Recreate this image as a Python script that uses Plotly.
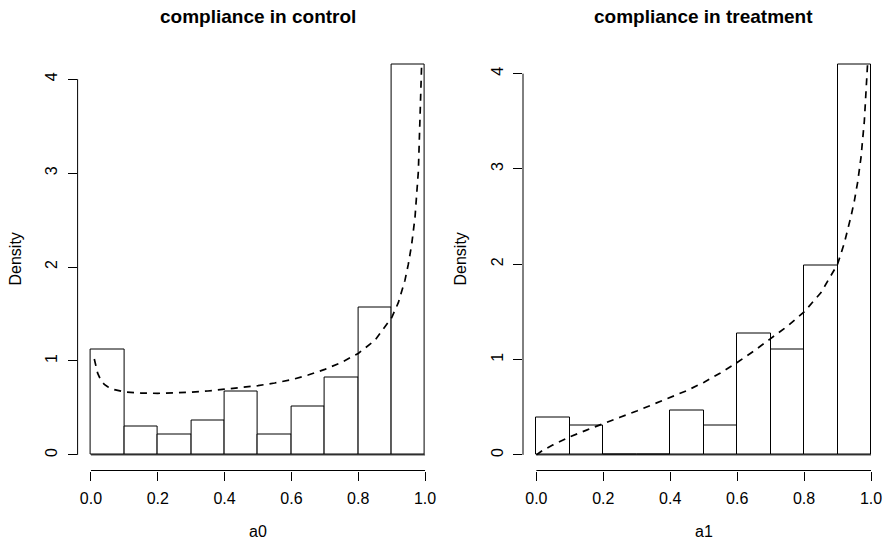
import plotly.graph_objects as go
from plotly.subplots import make_subplots

# Histogram bins (width 0.1 on [0, 1])
bin_edges = [0.0, 0.1, 0.2, 0.3, 0.4, 0.5, 0.6, 0.7, 0.8, 0.9, 1.0]

# Density heights of each bin
control_density = [1.12, 0.30, 0.22, 0.37, 0.67, 0.22, 0.52, 0.82, 1.57, 4.16]
treatment_density = [0.39, 0.31, 0.0, 0.0, 0.47, 0.31, 1.27, 1.11, 1.99, 4.10]

# Fitted density curves (dashed)
control_curve_x = [0.01, 0.02, 0.03, 0.04, 0.05, 0.07, 0.10, 0.15, 0.20, 0.25, 0.30,
                   0.35, 0.40, 0.45, 0.50, 0.55, 0.60, 0.65, 0.70, 0.75, 0.80,
                   0.85, 0.90, 0.92, 0.94, 0.95, 0.96, 0.97, 0.98, 0.99]
control_curve_y = [1.02, 0.87, 0.79, 0.75, 0.725, 0.695, 0.670, 0.658, 0.655, 0.660, 0.668,
                   0.680, 0.697, 0.715, 0.737, 0.765, 0.800, 0.850, 0.910, 0.985, 1.08,
                   1.22, 1.46, 1.62, 1.86, 2.03, 2.24, 2.53, 3.02, 4.18]

treatment_curve_x = [0.0, 0.02, 0.05, 0.10, 0.15, 0.20, 0.25, 0.30, 0.35, 0.40, 0.45,
                     0.50, 0.55, 0.60, 0.65, 0.70, 0.75, 0.80, 0.85, 0.90, 0.92,
                     0.94, 0.95, 0.96, 0.97, 0.98, 0.99]
treatment_curve_y = [0.0, 0.05, 0.105, 0.19, 0.26, 0.33, 0.395, 0.46, 0.53, 0.60, 0.675,
                     0.76, 0.86, 0.97, 1.09, 1.22, 1.35, 1.50, 1.70, 2.00, 2.22,
                     2.50, 2.66, 2.86, 3.12, 3.50, 4.12]

x_tick_vals = [0.0, 0.2, 0.4, 0.6, 0.8, 1.0]
x_tick_text = ["0.0", "0.2", "0.4", "0.6", "0.8", "1.0"]
y_tick_vals = [0, 1, 2, 3, 4]
y_tick_text = ["0", "1", "2", "3", "4"]

panel_titles = ["compliance in control", "compliance in treatment"]
x_titles = ["a0", "a1"]
y_title = "Density"

FONT = "Liberation Sans, Arial, Helvetica, sans-serif"
INK = "#000000"

W, H = 889, 545
x_domains = [[77.6 / W, 438.4 / W], [523.0 / W, 884.4 / W]]
y_domain = [(H - 470.5) / H, (H - 48.5) / H]

fig = make_subplots(rows=1, cols=2)

panels = [
    (control_density, control_curve_x, control_curve_y),
    (treatment_density, treatment_curve_x, treatment_curve_y),
]

mids = [(a + b) / 2 for a, b in zip(bin_edges[:-1], bin_edges[1:])]
widths = [b - a for a, b in zip(bin_edges[:-1], bin_edges[1:])]

for i, (dens, cx, cy) in enumerate(panels):
    col = i + 1
    # baseline along the bin bottoms (covers empty bins)
    fig.add_trace(go.Scatter(x=[bin_edges[0], bin_edges[-1]], y=[0, 0], mode="lines",
                             line=dict(color=INK, width=1), hoverinfo="skip",
                             showlegend=False), row=1, col=col)
    fig.add_trace(go.Bar(x=mids, y=dens, width=widths,
                         marker=dict(color="white", line=dict(color=INK, width=1)),
                         showlegend=False), row=1, col=col)
    fig.add_trace(go.Scatter(x=cx, y=cy, mode="lines",
                             line=dict(color=INK, width=1.7, dash="7px,6px"),
                             showlegend=False, cliponaxis=False), row=1, col=col)

    ymax = max(dens)
    xa = "xaxis" if i == 0 else "xaxis2"
    ya = "yaxis" if i == 0 else "yaxis2"
    fig.layout[xa].update(domain=x_domains[i], range=[-0.04, 1.04],
                          tickvals=x_tick_vals, ticktext=x_tick_text,
                          ticks="outside", ticklen=9, tickwidth=1, tickcolor=INK,
                          showline=False, showgrid=False, zeroline=False,
                          tickfont=dict(family=FONT, size=16, color=INK),
                          ticklabelstandoff=4, fixedrange=True)
    fig.layout[ya].update(domain=y_domain, range=[-0.04 * ymax, 1.04 * ymax],
                          tickvals=y_tick_vals, ticktext=y_tick_text,
                          ticks="outside", ticklen=9, tickwidth=1, tickcolor=INK,
                          showline=False, showgrid=False, zeroline=False,
                          tickangle=-90,
                          tickfont=dict(family=FONT, size=16, color=INK),
                          ticklabelstandoff=4, fixedrange=True)

    xref = "x" if i == 0 else "x2"
    yref = "y" if i == 0 else "y2"
    # axis lines spanning first to last tick
    fig.add_shape(type="line", xref=xref, yref=yref + " domain",
                  x0=x_tick_vals[0], x1=x_tick_vals[-1], y0=0, y1=0,
                  line=dict(color=INK, width=1))
    fig.add_shape(type="line", xref=xref + " domain", yref=yref,
                  x0=0, x1=0, y0=y_tick_vals[0], y1=y_tick_vals[-1],
                  line=dict(color=INK, width=1))

    xc = (x_domains[i][0] + x_domains[i][1]) / 2
    fig.add_annotation(text="<b>" + panel_titles[i] + "</b>", xref="paper", yref="paper",
                       x=xc, y=1 - 17 / H, xanchor="center", yanchor="middle",
                       showarrow=False, font=dict(family=FONT, size=19, color=INK))
    fig.add_annotation(text=x_titles[i], xref="paper", yref="paper",
                       x=xc, y=1 - 531.5 / H, xanchor="center", yanchor="middle",
                       showarrow=False, font=dict(family=FONT, size=16, color=INK))
    fig.add_annotation(text=y_title, xref="paper", yref="paper",
                       x=(15 if i == 0 else 460) / W,
                       y=(y_domain[0] + y_domain[1]) / 2,
                       xanchor="center", yanchor="middle", textangle=-90,
                       showarrow=False, font=dict(family=FONT, size=16, color=INK))

fig.update_layout(width=W, height=H, margin=dict(l=0, r=0, t=0, b=0),
                  paper_bgcolor="white", plot_bgcolor="white",
                  bargap=0, showlegend=False)

fig.write_html("out.html")
